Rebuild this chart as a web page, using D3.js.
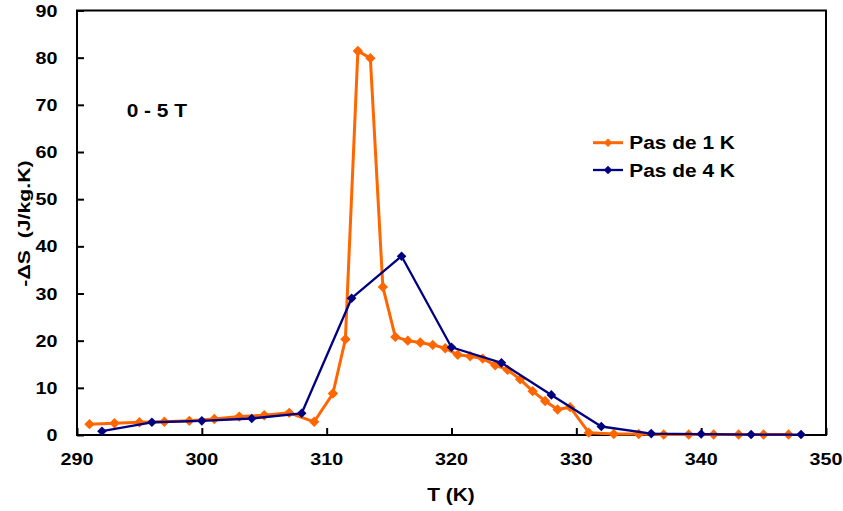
<!DOCTYPE html>
<html><head><meta charset="utf-8">
<script src="https://cdn.jsdelivr.net/npm/d3@7"></script>
<style>html,body{margin:0;padding:0;background:#fff;}svg{display:block;}</style>
</head><body><svg id="c" width="843" height="511"></svg>
<script>
const orangeT = [291,293,295,297,299,301,303,305,307,309,310.5,311.5,312.5,313.5,314.5,315.5,316.5,317.5,318.5,319.5,320.5,321.5,322.5,323.5,324.5,325.5,326.5,327.5,328.5,329.5,331,333,335,337,339,341,343,345,347];
const orangeV = [2.3,2.5,2.7,2.8,3.0,3.4,3.9,4.2,4.7,2.8,8.8,20.3,81.4,79.9,31.4,20.8,20.0,19.6,19.1,18.4,17.0,16.7,16.2,14.8,13.8,11.8,9.3,7.2,5.4,5.9,0.5,0.2,0.2,0.1,0.1,0.1,0.1,0.1,0.1];
const blueT = [292,296,300,304,308,312,316,320,324,328,332,336,340,344,348];
const blueV = [0.8,2.7,3.0,3.5,4.6,29.0,37.9,18.6,15.3,8.5,1.8,0.3,0.2,0.1,0.1];
const xTicks = [290,300,310,320,330,340,350];
const yTicks = [0,10,20,30,40,50,60,70,80,90];
const seriesNames = ["Pas de 1 K","Pas de 4 K"];
const colors = ["#FF6600","#000080"];

const svg = d3.select("#c");
const L=77, R=826, T=10.5, B=435;
const x = d3.scaleLinear().domain([290,350]).range([L,R]);
const y = d3.scaleLinear().domain([0,90]).range([B,T]);
const font = "'Liberation Sans', Arial, sans-serif";
const SX = 1.16; // horizontal stretch of the reference lettering

function label(px, py, str, size, anchor, sx, rot){
  const g = svg.append("g").attr("transform",`translate(${px},${py})${rot?` rotate(${rot})`:""} scale(${sx},1)`);
  return g.append("text").attr("text-anchor",anchor).attr("font-family",font)
    .attr("font-weight","bold").attr("font-size",size).attr("fill","#000")
    .style("white-space","pre").text(str);
}

// frame
svg.append("rect").attr("x",L).attr("y",T).attr("width",R-L).attr("height",B-T)
  .attr("fill","none").attr("stroke","#000").attr("stroke-width",2);

// ticks (inward) via axis generators
const xa = svg.append("g").attr("transform",`translate(0,${B})`)
  .call(d3.axisBottom(x).tickValues(xTicks).tickSizeInner(-7).tickSizeOuter(0).tickFormat(""));
xa.select(".domain").remove();
xa.selectAll("line").attr("stroke","#000").attr("stroke-width",2);
const ya = svg.append("g").attr("transform",`translate(${L},0)`)
  .call(d3.axisLeft(y).tickValues(yTicks).tickSizeInner(-7).tickSizeOuter(0).tickFormat(""));
ya.select(".domain").remove();
ya.selectAll("line").attr("stroke","#000").attr("stroke-width",2);

// tick labels
xTicks.forEach(t=>label(x(t), 465, String(t), 17, "middle", SX));
yTicks.forEach(t=>label(57.5, y(t)+6, String(t), 17, "end", SX));

// axis titles
label(451, 501, "T (K)", 18, "middle", SX);
label(29.5, 223.5, "-\u0394S  (J/kg.K)", 16, "middle", 1.33, -90);
label(126.7, 116.5, "0 - 5 T", 18, "start", SX);

const series = [
  {T:orangeT, V:orangeV, c:colors[0], w:3, m:5.2},
  {T:blueT, V:blueV, c:colors[1], w:2.3, m:4.8}
];
const line = d3.line().x(d=>x(d[0])).y(d=>y(d[1]));
series.forEach(s=>{
  const pts = s.T.map((t,i)=>[t,s.V[i]]);
  svg.append("path").datum(pts).attr("d",line).attr("fill","none").attr("stroke",s.c).attr("stroke-width",s.w).attr("stroke-linejoin","round");
  svg.selectAll(null).data(pts).enter().append("path")
    .attr("d", d3.symbol().type(d3.symbolSquare).size(s.m*s.m*2))
    .attr("transform",d=>`translate(${x(d[0])},${y(d[1])}) rotate(45)`).attr("fill",s.c);
});

// legend
[0,1].forEach(i=>{
  const yy = 142.7 + i*27.3;
  svg.append("line").attr("x1",593).attr("x2",623).attr("y1",yy).attr("y2",yy).attr("stroke",colors[i]).attr("stroke-width",i?2.3:3);
  svg.append("path").attr("d",d3.symbol().type(d3.symbolSquare).size(36)).attr("transform",`translate(608,${yy}) rotate(45)`).attr("fill",colors[i]);
  label(629.3, yy+6.6, seriesNames[i], 18, "start", SX);
});
</script></body></html>
